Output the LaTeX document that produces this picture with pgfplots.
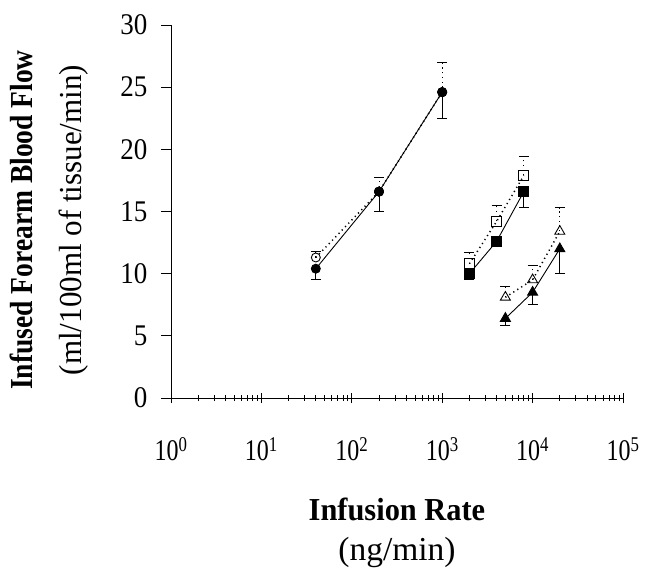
\documentclass[border=0pt]{standalone}
\usepackage{pgfplots}
\pgfplotsset{compat=1.18}
\usepackage{fontspec}
\setmainfont{Liberation Serif}
\newfontfamily\tickfont{Liberation Serif}[FakeStretch=0.8]
\newfontfamily\ytickfont{Liberation Serif}[FakeStretch=0.9]
\newfontfamily\ylabfont{Liberation Serif}[FakeStretch=0.86]
\newfontfamily\ylabfontb{Liberation Serif}[FakeStretch=0.97]
\newfontfamily\xlabfont{Liberation Serif}[FakeStretch=0.95]
\begin{document}
\begin{tikzpicture}[x=1pt,y=1pt]
\begin{axis}[
  at={(0,0)}, anchor=south west,
  scale only axis, width=452pt, height=373pt,
  xmode=log, xmin=1, xmax=100000, ymin=0, ymax=30,
  axis lines*=left,
  axis line style={line width=0.8pt},
  xtick={1,10,100,1000,10000,100000},
  xticklabels={10\textsuperscript{0},10\textsuperscript{1},10\textsuperscript{2},10\textsuperscript{3},10\textsuperscript{4},10\textsuperscript{5}},
  ytick={0,5,10,15,20,25,30},
  xtick align=center, ytick align=outside,
  major tick length=10pt, minor tick length=6pt,
  tick style={line width=0.7pt,black},
  /pgf/number format/assume math mode=true,
  xticklabel style={font=\tickfont\fontsize{30}{34}\selectfont, yshift=-31pt},
  yticklabel style={font=\ytickfont\fontsize{30}{34}\selectfont, xshift=-10pt},
  clip=false,
  error bars/error bar style={line width=0.9pt},
  error bars/error mark options={rotate=90, mark size=5pt, line width=0.9pt},
]
% filled circles
\addplot[black, line width=0.9pt, mark=*, mark size=4.5pt,
  error bars/.cd, y dir=minus, y explicit]
  coordinates {(40,10.4) -= (0,0.9) (200,16.6) -= (0,1.6) (1000,24.6) -= (0,2.1)};
% open circles
\addplot[black, line width=1.5pt, dash pattern=on 1.2pt off 3.5pt, mark=o, mark size=4.5pt, mark options={solid, fill=white, line width=0.9pt},
  error bars/.cd, y dir=plus, y explicit]
  coordinates {(40,11.3) += (0,0.5) (200,16.6) += (0,1.1) (1000,24.6) += (0,2.4)};
\addplot[black, line width=0.9pt, mark=*, mark size=4.5pt, only marks]
  coordinates {(200,16.6) (1000,24.6)};
% filled squares
\addplot[black, line width=0.9pt, mark=square*, mark size=5pt,
  error bars/.cd, y dir=minus, y explicit]
  coordinates {(2000,10.0) -= (0,0.5) (4000,12.6) -= (0,0.4) (8000,16.6) -= (0,1.3)};
% open squares
\addplot[black, line width=1.5pt, dash pattern=on 1.2pt off 3.5pt, mark=square, mark size=5pt, mark options={solid, fill=white, line width=0.9pt},
  error bars/.cd, y dir=plus, y explicit]
  coordinates {(2000,10.8) += (0,0.9) (4000,14.2) += (0,1.3) (8000,17.9) += (0,1.5)};
% filled triangles
\addplot[black, line width=0.9pt, mark=triangle*, mark size=5.8pt,
  error bars/.cd, y dir=minus, y explicit]
  coordinates {(5000,6.4) -= (0,0.6) (10000,8.5) -= (0,1.0) (20000,12.0) -= (0,2.0)};
% open triangles
\addplot[black, line width=1.5pt, dash pattern=on 1.2pt off 3.5pt, mark=triangle, mark size=5.8pt, mark options={solid, fill=white, line width=0.9pt},
  error bars/.cd, y dir=plus, y explicit]
  coordinates {(5000,8.1) += (0,0.9) (10000,9.5) += (0,1.2) (20000,13.4) += (0,1.9)};
\end{axis}
\node[rotate=90, anchor=base, font=\ylabfont\fontsize{32}{36}\selectfont\bfseries] at (-138pt,178pt) {Infused Forearm Blood Flow};
\node[rotate=90, anchor=base, font=\ylabfontb\fontsize{32}{36}\selectfont] at (-89pt,178pt) {(ml/100ml of tissue/min)};
\node[anchor=base, font=\xlabfont\fontsize{32}{36}\selectfont\bfseries] at (226pt,-122pt) {Infusion Rate};
\node[anchor=base, font=\fontsize{33.5}{37}\selectfont] at (226pt,-162pt) {(ng/min)};
\path[use as bounding box] (-171pt,-168pt) rectangle (474pt,398pt);
\end{tikzpicture}
\end{document}
